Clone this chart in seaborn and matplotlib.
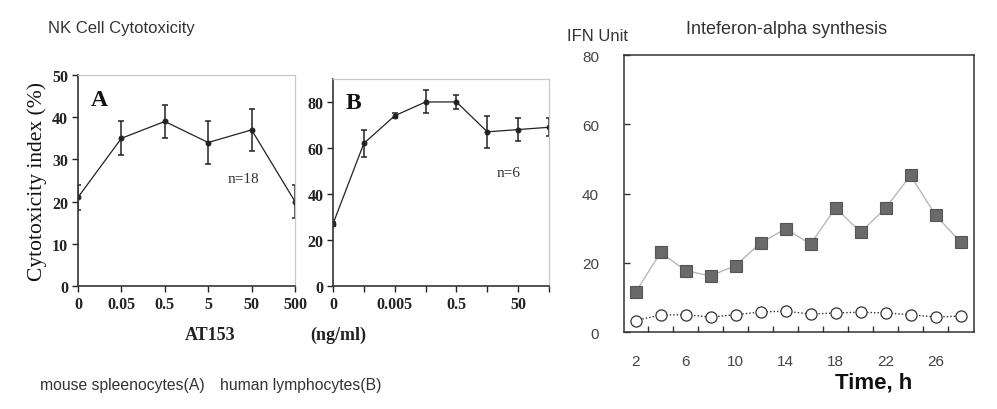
import numpy as np
import pandas as pd
import matplotlib
matplotlib.use("Agg")
import matplotlib.pyplot as plt
import seaborn as sns

# ---------------- data ----------------
a_labels = ["0", "0.05", "0.5", "5", "50", "500"]
a_values = [21, 35, 39, 34, 37, 20]
a_errors = [3, 4, 4, 5, 5, 4]

b_labels = ["0", "", "0.005", "", "0.5", "", "50", ""]
b_values = [27, 62, 74, 80, 80, 67, 68, 69]
b_errors = [1, 6, 1, 5, 3, 7, 5, 4]

c_time = [2, 4, 6, 8, 10, 12, 14, 16, 18, 20, 22, 24, 26, 28]
c_treated = [11.5, 23, 17.7, 16.2, 19.2, 25.7, 29.8, 25.4, 35.9, 28.8, 35.8, 45.2, 33.7, 26]
c_control = [3.3, 4.9, 5.0, 4.3, 5.0, 5.8, 6.0, 5.2, 5.5, 5.7, 5.5, 5.0, 4.3, 4.6]
c_ticklabels = [2, 6, 10, 14, 18, 22, 26]

sns.set_theme(style="white")
plt.rcParams["font.family"] = ["DejaVu Sans"]

fig = plt.figure(figsize=(9.97, 4.10), dpi=100)
fig.patch.set_facecolor("white")

serif = "Liberation Serif"
sans = "Liberation Sans"

def left_panel(ax, labels, values, errors, ylim, yticks, letter, ntext, npos):
    x = np.arange(len(values))
    df = pd.DataFrame({"x": x, "y": values})
    sns.lineplot(data=df, x="x", y="y", ax=ax, color="#222222", lw=0.9,
                 marker="o", markersize=3.5, markeredgecolor="#222222")
    ax.errorbar(x, values, yerr=errors, fmt="none", ecolor="#222222",
                elinewidth=1.1, capsize=2.5, capthick=1.1)
    ax.set_xlim(0, len(values) - 1)
    ax.set_ylim(*ylim)
    ax.set_xticks(x)
    ax.set_xticklabels(labels, fontfamily=serif, fontsize=11.5, fontweight="bold", color="#222222")
    ax.set_yticks(yticks)
    ax.set_yticklabels([str(t) for t in yticks], fontfamily=serif, fontsize=11.5,
                       fontweight="bold", color="#222222")
    ax.tick_params(axis="both", direction="out", length=4, width=1, color="#222222", pad=3,
                   bottom=True, left=True)
    for s in ["left", "bottom"]:
        ax.spines[s].set_color("#333333")
        ax.spines[s].set_linewidth(1.2)
    for s in ["top", "right"]:
        ax.spines[s].set_color("#c8c8c8")
        ax.spines[s].set_linewidth(0.9)
    ax.set_xlabel("")
    ax.set_ylabel("")
    ax.text(0.06, 0.935, letter, transform=ax.transAxes, fontfamily=serif, fontsize=17,
            fontweight="bold", va="top", ha="left", color="#111111")
    ax.text(npos[0], npos[1], ntext, fontfamily=serif, fontsize=11, color="#333333",
            ha="left", va="center")

axA = fig.add_axes([0.0782, 0.30, 0.2177, 0.5146])
left_panel(axA, a_labels, a_values, a_errors, (0, 50), [0, 10, 20, 30, 40, 50], "A", "n=18", (3.45, 25.5))
axA.set_ylabel("Cytotoxicity index (%)", fontfamily=serif, fontsize=15.5, color="#111111", labelpad=4)

axB = fig.add_axes([0.334, 0.30, 0.2167, 0.505])
left_panel(axB, b_labels, b_values, b_errors, (0, 90), [0, 20, 40, 60, 80], "B", "n=6", (5.3, 49.5))

fig.text(0.211, 0.182, "AT153", fontfamily=serif, fontsize=13, fontweight="bold",
         ha="center", va="center", color="#222222")
fig.text(0.339, 0.182, "(ng/ml)", fontfamily=serif, fontsize=13, fontweight="bold",
         ha="center", va="center", color="#222222")
fig.text(0.048, 0.93, "NK Cell Cytotoxicity", fontfamily=sans, fontsize=12, color="#333333",
         ha="left", va="center")
fig.text(0.04, 0.06, "mouse spleenocytes(A)", fontfamily=sans, fontsize=11.3, color="#333333",
         ha="left", va="center")
fig.text(0.221, 0.06, "human lymphocytes(B)", fontfamily=sans, fontsize=11.3, color="#333333",
         ha="left", va="center")

# ---------------- right panel ----------------
axC = fig.add_axes([0.6259, 0.1878, 0.351, 0.6756])
dfc = pd.DataFrame({"t": c_time, "treated": c_treated, "control": c_control})
sns.lineplot(data=dfc, x="t", y="treated", ax=axC, color="#b8b8b8", lw=1.0,
             marker="s", markersize=8, markerfacecolor="#6a6a6a", markeredgecolor="#555555",
             markeredgewidth=0.8)
sns.lineplot(data=dfc, x="t", y="control", ax=axC, color="#333333", lw=1.0, linestyle=(0, (1, 1.5)),
             marker="o", markersize=8, markerfacecolor="white", markeredgecolor="#333333",
             markeredgewidth=0.9)
axC.set_xlim(1.07, 29.07)
axC.set_ylim(0, 80)
axC.set_xticks(c_ticklabels)
axC.set_xticklabels([str(t) for t in c_ticklabels], fontfamily=sans, fontsize=11, color="#444444")
axC.set_xticks(np.array(c_time[:-1]) + 1, minor=True)
axC.tick_params(axis="x", which="major", length=0, pad=16)
axC.tick_params(axis="x", which="minor", direction="in", length=4, width=1, color="#333333",
                bottom=True)
axC.set_yticks([0, 20, 40, 60, 80])
axC.set_yticklabels(["0", "20", "40", "60", "80"], fontfamily=sans, fontsize=11, color="#444444")
axC.tick_params(axis="y", which="major", direction="in", length=4, width=1, color="#333333",
                left=True, pad=18)
for s in axC.spines.values():
    s.set_color("#333333")
    s.set_linewidth(1.1)
axC.set_xlabel("")
axC.set_ylabel("")

fig.text(0.569, 0.912, "IFN Unit", fontfamily=sans, fontsize=12, color="#333333",
         ha="left", va="center")
fig.text(0.688, 0.927, "Inteferon-alpha synthesis", fontfamily=sans, fontsize=13, color="#333333",
         ha="left", va="center")
fig.text(0.838, 0.066, "Time, h", fontfamily=sans, fontsize=16, fontweight="bold", color="#111111",
         ha="left", va="center")

fig.savefig("out.png", dpi=100, facecolor="white")
